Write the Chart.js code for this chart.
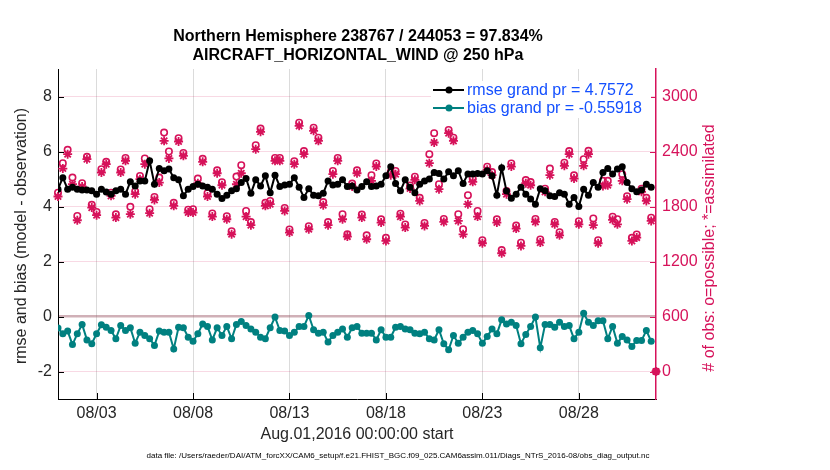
<!DOCTYPE html>
<html>
<head>
<meta charset="utf-8">
<script src="https://cdn.jsdelivr.net/npm/chart.js@4.4.0/dist/chart.umd.min.js"></script>
<style>
  html, body { margin: 0; padding: 0; background: #fff; }
  canvas { display: block; }
</style>
</head>
<body>
<canvas id="chart" width="830" height="470"></canvas>
<script>
// chart text
const titleLines = ['Northern Hemisphere 238767 / 244053 = 97.834%', 'AIRCRAFT_HORIZONTAL_WIND @ 250 hPa'];
const leftAxisTitle = 'rmse and bias (model - observation)';
const rightAxisTitle = '# of obs: o=possible; *=assimilated';
const xAxisTitle = 'Aug.01,2016 00:00:00 start';
const footer = 'data file: /Users/raeder/DAI/ATM_forcXX/CAM6_setup/f.e21.FHIST_BGC.f09_025.CAM6assim.011/Diags_NTrS_2016-08/obs_diag_output.nc';
const legendLabels = ['rmse grand pr = 4.7572', 'bias grand pr = -0.55918'];

// ticks (x in days since Aug 1 00Z)
const xTickDays = [2, 7, 12, 17, 22, 27];
const xTickLabels = ['08/03', '08/08', '08/13', '08/18', '08/23', '08/28'];
const leftTicks = [-2, 0, 2, 4, 6, 8];
const rightTicks = [0, 600, 1200, 1800, 2400, 3000];

// 6-hourly values, Aug 1 00Z onwards
const rmse = [
  4.63, 5.05, 4.63, 4.70, 4.63, 4.60, 4.60, 4.57, 4.45, 4.63, 4.53, 4.45, 4.57, 4.63, 4.45, 4.90,
  4.75, 4.93, 4.93, 5.66, 4.81, 5.38, 5.30, 5.36, 5.05, 4.97, 4.39, 4.63, 4.73, 4.81, 4.75, 4.70,
  4.63, 4.45, 4.29, 4.41, 4.57, 4.65, 4.87, 5.02, 4.48, 4.97, 4.75, 5.12, 4.50, 5.14, 4.73, 4.78,
  4.81, 5.05, 4.70, 4.33, 4.65, 4.41, 4.39, 4.48, 4.93, 4.78, 4.81, 4.97, 4.73, 4.75, 4.60,
  4.73, 4.90, 4.73, 4.75, 4.81, 5.12, 5.45, 4.84, 4.57, 4.97, 4.70, 4.50, 4.81, 4.93, 5.00, 5.24,
  5.20, 5.00, 5.26, 5.12, 5.30, 4.84, 5.18, 5.18, 5.20, 5.18, 5.30, 5.12, 4.41, 5.41,
  4.56, 4.30, 4.45, 4.70, 4.45, 4.27, 4.08, 4.65, 4.57, 4.39, 4.36, 4.50, 4.45, 4.08, 4.33, 4.00,
  4.63, 4.41, 4.87, 4.70, 5.24, 5.38, 5.18, 5.36, 5.45, 4.87, 4.65, 4.54, 4.60, 4.81, 4.70
];
const bias = [
  -0.42, -0.63, -0.53, -1.02, -0.63, -0.29, -0.85, -0.99, -0.63, -0.30, -0.39, -0.51, -0.81, -0.33,
  -0.51, -0.41, -0.97, -0.57, -0.69, -0.81, -1.05, -0.53, -0.57, -0.57, -1.18, -0.39, -0.41, -0.75,
  -0.90, -0.63, -0.27, -0.36, -0.85, -0.41, -0.69, -0.36, -0.81, -0.29, -0.18, -0.33,
  -0.45, -0.57, -0.75, -0.81, -0.41, -0.02, -0.51, -0.53, -0.69, -0.57, -0.36, -0.36, 0.04, -0.48,
  -0.61, -0.57, -0.93, -0.69, -0.57, -0.45, -0.75, -0.41, -0.36, -0.61, -0.61, -0.61, -0.85, -0.48,
  -0.75, -0.75, -0.39, -0.36, -0.45, -0.48, -0.61, -0.63, -0.57, -0.81, -0.85, -0.48, -0.99, -1.21,
  -0.69, -0.97,
  -0.75, -0.57, -0.51, -0.63, -0.97, -0.73, -0.45, -0.63, -0.12, -0.27, -0.21, -0.33, -0.99, -0.65,
  -0.36, -0.02, -1.14, -0.29, -0.29, -0.39, -0.21, -0.36, -0.33, -0.81, -0.57, 0.12, -0.21, -0.33,
  -0.15, -0.15, -0.81, -0.36, -0.97, -0.73, -0.85, -1.09, -0.87, -0.87, -0.51, -0.90
];
// counts: last entry is Sep 1 00Z (empty bin)
const nPossible = [
  1950, 2273, 2418, 2116, 1697, 2054, 2342, 1818, 1740, 2207, 2287, 1950, 1715, 2205, 2330, 1796,
  1965, 2134, 2324, 1770, 1905, 2116, 2607, 2400, 1840, 2545, 2385, 1765, 1770, 2105, 2320, 1945,
  1725, 2195, 2065, 1695, 1530, 2127, 2251, 1752, 1630, 2469, 2650, 1840, 1860, 2330, 2330, 1785,
  1550, 2295, 2715, 2405, 1585, 2660, 2550, 1848, 1630, 2188, 2330, 1716, 1497, 2050, 2195,
  1712, 1486, 2142, 2270, 1660, 1458, 2178, 2188, 1722, 1605, 2030, 2125, 1895, 1620, 2371, 2600,
  2043, 1665, 2635, 2550, 1716, 1552, 1923, 2102, 1752, 1432, 2234, 2176, 1660, 1325,
  1968, 2270, 1592, 1405, 2088, 2066, 1665, 1440, 1995, 2214, 1632, 1520, 2278, 2405, 2140, 1640,
  2316, 2407, 1669, 1432, 2080, 2080, 1688, 1661, 2153, 1912, 1458, 1495, 1995, 1895, 1678,
  0
];
const nAssim = [
  1909, 2214, 2371, 2043, 1650, 2018, 2316, 1788, 1705, 2171, 2262, 1916, 1679, 2171, 2298, 1716,
  1934, 2098, 2262, 1727, 1872, 2061, 2516, 2324, 1807, 2509, 2353, 1734, 1734, 2054, 2287, 1909,
  1690, 2163, 2032, 1661, 1497, 2043, 2163, 1690, 1596, 2425, 2615, 1807, 1825, 2298, 2298, 1752,
  1516, 2262, 2680, 2371, 1552, 2626, 2516, 1814, 1596, 2153, 2298, 1661, 1472, 2018, 2163,
  1679, 1443, 2080, 2236, 1625, 1424, 2142, 2153, 1690, 1570, 1996, 2091, 1861, 1588, 2273, 2498,
  1989, 1632, 2600, 2516, 1643, 1497, 1825, 2069, 1690, 1399, 2200, 2142, 1625, 1290,
  1934, 2236, 1559, 1370, 2054, 2032, 1632, 1406, 1960, 2142, 1606, 1486, 2244, 2371, 2105, 1606,
  2244, 2371, 1596, 1399, 2025, 2032, 1654, 1606, 2080, 1880, 1424, 1461, 1960, 1861, 1643,
  0
];

const pink = '#d6125a';
const teal = '#008080';
const ink = '#262626';
const blue = '#1450ff';
const fam = '"Liberation Sans", Arial, Helvetica, sans-serif';

// one point every 6 hours
const toXY = arr => arr.map((v, i) => ({x: i * 0.25, y: v}));

// titles, axis labels, legend and inward tick marks
const decor = {
  id: 'decor',
  afterDraw(chart) {
    const c = chart.ctx;
    const a = chart.chartArea;
    const sx = chart.scales.x, sy = chart.scales.y, sr = chart.scales.y1;
    c.save();

    // inward ticks
    c.lineWidth = 1;
    c.strokeStyle = '#000';
    c.beginPath();
    xTickDays.forEach(d => { const px = Math.round(sx.getPixelForValue(d)) + 0.5; c.moveTo(px, a.bottom); c.lineTo(px, a.bottom - 6); });
    leftTicks.forEach(v => { const py = Math.round(sy.getPixelForValue(v)) + 0.5; c.moveTo(a.left, py); c.lineTo(a.left + 6, py); });
    c.stroke();
    c.strokeStyle = pink;
    c.beginPath();
    rightTicks.forEach(v => { const py = Math.round(sr.getPixelForValue(v)) + 0.5; c.moveTo(a.right, py); c.lineTo(a.right - 6, py); });
    c.stroke();

    // title
    c.fillStyle = '#000';
    c.textAlign = 'center';
    c.textBaseline = 'middle';
    c.font = 'bold 16px ' + fam;
    c.fillText(titleLines[0], 358, 37);
    c.fillText(titleLines[1], 358, 56);

    // x title and footer
    c.font = '16px ' + fam;
    c.fillStyle = ink;
    c.fillText(xAxisTitle, 357, 435);
    c.font = '8px ' + fam;
    c.fillStyle = '#000';
    const fw = c.measureText(footer).width;
    c.save();
    c.translate(398, 456);
    c.scale(503 / fw, 1);
    c.fillText(footer, 0, 0);
    c.restore();

    // y titles
    c.font = '16px ' + fam;
    c.save();
    c.translate(22, 236);
    c.rotate(-Math.PI / 2);
    c.fillStyle = ink;
    c.fillText(leftAxisTitle, 0, 0);
    c.restore();
    c.save();
    c.translate(710, 248);
    c.rotate(-Math.PI / 2);
    c.fillStyle = pink;
    c.fillText(rightAxisTitle, 0, 0);
    c.restore();

    // legend
    c.fillStyle = '#fff';
    c.fillRect(431, 81, 220, 37);
    const rows = [[90, '#000'], [108, teal]];
    rows.forEach(([y, col], k) => {
      c.strokeStyle = col;
      c.lineWidth = 2;
      c.beginPath();
      c.moveTo(433, y); c.lineTo(464, y);
      c.stroke();
      c.fillStyle = col;
      c.beginPath();
      c.arc(449, y, 3.5, 0, Math.PI * 2);
      c.fill();
      c.fillStyle = blue;
      c.textAlign = 'left';
      c.font = '16px ' + fam;
      c.fillText(legendLabels[k], 467, y + 1);
    });
    c.restore();
  }
};

new Chart(document.getElementById('chart'), {
  type: 'line',
  data: {
    datasets: [
      {
        label: 'rmse', data: toXY(rmse), yAxisID: 'y',
        borderColor: '#000', backgroundColor: '#000', borderWidth: 2,
        pointRadius: 3.5, pointBorderWidth: 0, order: 0
      },
      {
        label: 'bias', data: toXY(bias), yAxisID: 'y',
        borderColor: teal, backgroundColor: teal, borderWidth: 2,
        pointRadius: 3.5, pointBorderWidth: 0, order: 0
      },
      {
        label: 'possible', data: toXY(nPossible), yAxisID: 'y1', showLine: false,
        pointStyle: 'circle', pointRadius: 3.2, pointBorderWidth: 1.6,
        borderColor: pink, backgroundColor: 'rgba(0,0,0,0)', order: 2, clip: false
      },
      {
        label: 'assimilated', data: toXY(nAssim), yAxisID: 'y1', showLine: false,
        pointStyle: 'star', pointRadius: 4.5, pointBorderWidth: 1.8,
        borderColor: pink, backgroundColor: pink, order: 1, clip: false
      }
    ]
  },
  options: {
    responsive: false,
    animation: false,
    layout: {padding: {top: 69, left: 0, right: 0, bottom: 0}},
    plugins: {legend: {display: false}, tooltip: {enabled: false}, title: {display: false}},
    scales: {
      x: {
        type: 'linear', min: 0, max: 31,
        afterBuildTicks: s => { s.ticks = xTickDays.map(v => ({value: v})); },
        afterFit: s => { s.height = 71; },
        ticks: {
          callback: v => xTickLabels[xTickDays.indexOf(v)],
          color: ink, font: {size: 16, family: fam}, padding: 5, maxRotation: 0, autoSkip: false
        },
        grid: {color: 'rgba(0,0,0,0.14)', drawTicks: false},
        border: {color: '#000', width: 1}
      },
      y: {
        position: 'left', min: -3, max: 9,
        afterBuildTicks: s => { s.ticks = leftTicks.map(v => ({value: v})); },
        afterFit: s => { s.width = 58; },
        ticks: {color: ink, font: {size: 16, family: fam}, padding: 6, callback: v => String(v)},
        grid: {
          drawTicks: false,
          color: ctx => ctx.tick && ctx.tick.value === 0 ? 'rgba(150,80,95,0.45)' : 'rgba(214,18,90,0.16)',
          lineWidth: ctx => ctx.tick && ctx.tick.value === 0 ? 2.5 : 1
        },
        border: {color: '#000', width: 1}
      },
      y1: {
        position: 'right', min: -300, max: 3300,
        afterBuildTicks: s => { s.ticks = rightTicks.map(v => ({value: v})); },
        afterFit: s => { s.width = 174; },
        ticks: {color: pink, font: {size: 16, family: fam}, padding: 6, callback: v => String(v)},
        grid: {display: false, drawTicks: false},
        border: {color: pink, width: 1.5}
      }
    }
  },
  plugins: [decor]
});
</script>
</body>
</html>
